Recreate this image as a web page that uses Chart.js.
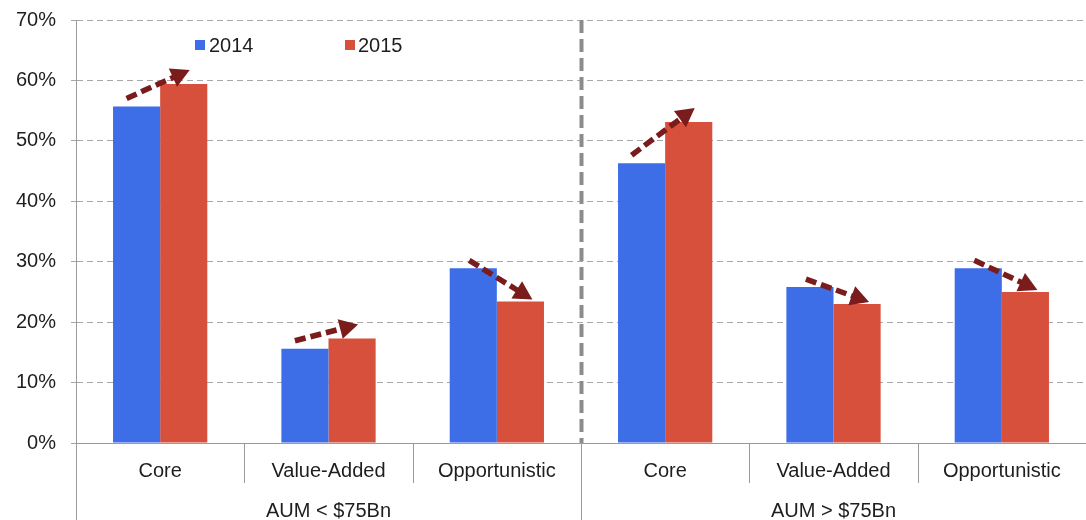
<!DOCTYPE html>
<html>
<head>
<meta charset="utf-8">
<script src="https://cdn.jsdelivr.net/npm/chart.js@4/dist/chart.umd.min.js"></script>
<style>
html, body { margin: 0; padding: 0; background: #fff; }
#wrap { width: 1086px; height: 520px; }
</style>
</head>
<body>
<div id="wrap"><canvas id="chart"></canvas></div>
<script>
"use strict";
const categories = ["Core", "Value-Added", "Opportunistic", "Core", "Value-Added", "Opportunistic"];
const groups = ["AUM < $75Bn", "AUM > $75Bn"];
const years = ["2014", "2015"];
const values2014 = [55.7, 15.6, 28.9, 46.3, 25.8, 28.9];
const values2015 = [59.4, 17.3, 23.4, 53.1, 23.0, 25.0];
const yMax = 70;
const yStep = 10;

const blue = "#3d6ee8";
const red = "#d6503b";
const arrowColor = "#7a1c1c";
const font = "'Liberation Sans', Arial, sans-serif";

function drawArrow(ctx, x1, y1, x2, y2) {
    const ang = Math.atan2(y2 - y1, x2 - x1);
    const head = 21;
    const lx = x2 - Math.cos(ang) * head * 0.8;
    const ly = y2 - Math.sin(ang) * head * 0.8;
    ctx.save();
    ctx.strokeStyle = arrowColor;
    ctx.fillStyle = arrowColor;
    ctx.lineWidth = 5.5;
    ctx.setLineDash([11, 5]);
    ctx.beginPath();
    ctx.moveTo(x1, y1);
    ctx.lineTo(lx, ly);
    ctx.stroke();
    ctx.setLineDash([]);
    ctx.beginPath();
    ctx.moveTo(x2, y2);
    ctx.lineTo(x2 - Math.cos(ang - 0.5) * head, y2 - Math.sin(ang - 0.5) * head);
    ctx.lineTo(x2 - Math.cos(ang + 0.5) * head, y2 - Math.sin(ang + 0.5) * head);
    ctx.closePath();
    ctx.fill();
    ctx.restore();
}

const extras = {
    id: "extras",
    afterDraw(chart) {
        const ctx = chart.ctx;
        const area = chart.chartArea;
        const x = chart.scales.x;
        const bottom = chart.height;

        // dividers under the axis
        ctx.save();
        ctx.strokeStyle = "#9a9a9a";
        ctx.lineWidth = 1;
        ctx.beginPath();
        ctx.moveTo(area.left + 0.5, area.bottom);
        ctx.lineTo(area.left + 0.5, bottom);
        ctx.stroke();
        for (let i = 0; i < categories.length - 1; i++) {
            const xp = Math.round((x.getPixelForValue(i) + x.getPixelForValue(i + 1)) / 2) + 0.5;
            ctx.beginPath();
            if (i === 2) {
                ctx.moveTo(xp, area.bottom);
                ctx.lineTo(xp, bottom);
                ctx.stroke();
                ctx.save();
                ctx.strokeStyle = "#8c8c8c";
                ctx.lineWidth = 4;
                ctx.setLineDash([13, 6]);
                ctx.beginPath();
                ctx.moveTo(xp, area.top);
                ctx.lineTo(xp, area.bottom);
                ctx.stroke();
                ctx.restore();
            } else {
                ctx.moveTo(xp, area.bottom);
                ctx.lineTo(xp, area.bottom + 40);
                ctx.stroke();
            }
        }
        ctx.restore();

        // group labels
        ctx.save();
        ctx.fillStyle = "#1e1e1e";
        ctx.font = "20px " + font;
        ctx.textAlign = "center";
        ctx.textBaseline = "middle";
        groups.forEach((g, k) => {
            const c = (x.getPixelForValue(k * 3) + x.getPixelForValue(k * 3 + 2)) / 2;
            ctx.fillText(g, c, 511);
        });
        ctx.restore();

        // legend
        ctx.save();
        ctx.font = "20px " + font;
        ctx.textBaseline = "middle";
        ctx.fillStyle = blue;
        ctx.fillRect(195, 40, 10, 10);
        ctx.fillStyle = red;
        ctx.fillRect(345, 40, 10, 10);
        ctx.fillStyle = "#1e1e1e";
        ctx.fillText(years[0], 209, 46);
        ctx.fillText(years[1], 358, 46);
        ctx.restore();

        // change arrows
        const m0 = chart.getDatasetMeta(0).data;
        const m1 = chart.getDatasetMeta(1).data;
        for (let i = 0; i < categories.length; i++) {
            const b = m0[i], r = m1[i];
            if (values2015[i] > values2014[i]) {
                drawArrow(ctx, b.x - 10, b.y - 8, r.x + 6, r.y - 14);
            } else {
                drawArrow(ctx, b.x - 4, b.y - 8, r.x + 12, r.y - 2);
            }
        }
    }
};

new Chart(document.getElementById("chart"), {
    type: "bar",
    data: {
        labels: categories,
        datasets: [
            { label: years[0], data: values2014, backgroundColor: blue },
            { label: years[1], data: values2015, backgroundColor: red }
        ]
    },
    options: {
        responsive: true,
        maintainAspectRatio: false,
        animation: false,
        layout: { padding: { top: 20, right: 0, left: 0, bottom: 0 } },
        plugins: { legend: { display: false }, tooltip: { enabled: false } },
        datasets: { bar: { categoryPercentage: 0.56, barPercentage: 1 } },
        scales: {
            x: {
                grid: { display: false },
                border: { color: "#9a9a9a" },
                ticks: { color: "#1e1e1e", font: { size: 20, family: font }, padding: 8, maxRotation: 0 },
                afterFit(s) { s.height = 77; }
            },
            y: {
                min: 0,
                max: yMax,
                ticks: {
                    stepSize: yStep,
                    color: "#1e1e1e",
                    font: { size: 20, family: font },
                    padding: 15,
                    callback: v => v + "%"
                },
                grid: { color: "#a8a8a8", tickLength: 5 },
                border: { color: "#9a9a9a", dash: [6, 4] },
                afterFit(s) { s.width = 76; s.paddingTop = 0; s.paddingBottom = 0; }
            }
        }
    },
    plugins: [extras]
});
</script>
</body>
</html>
